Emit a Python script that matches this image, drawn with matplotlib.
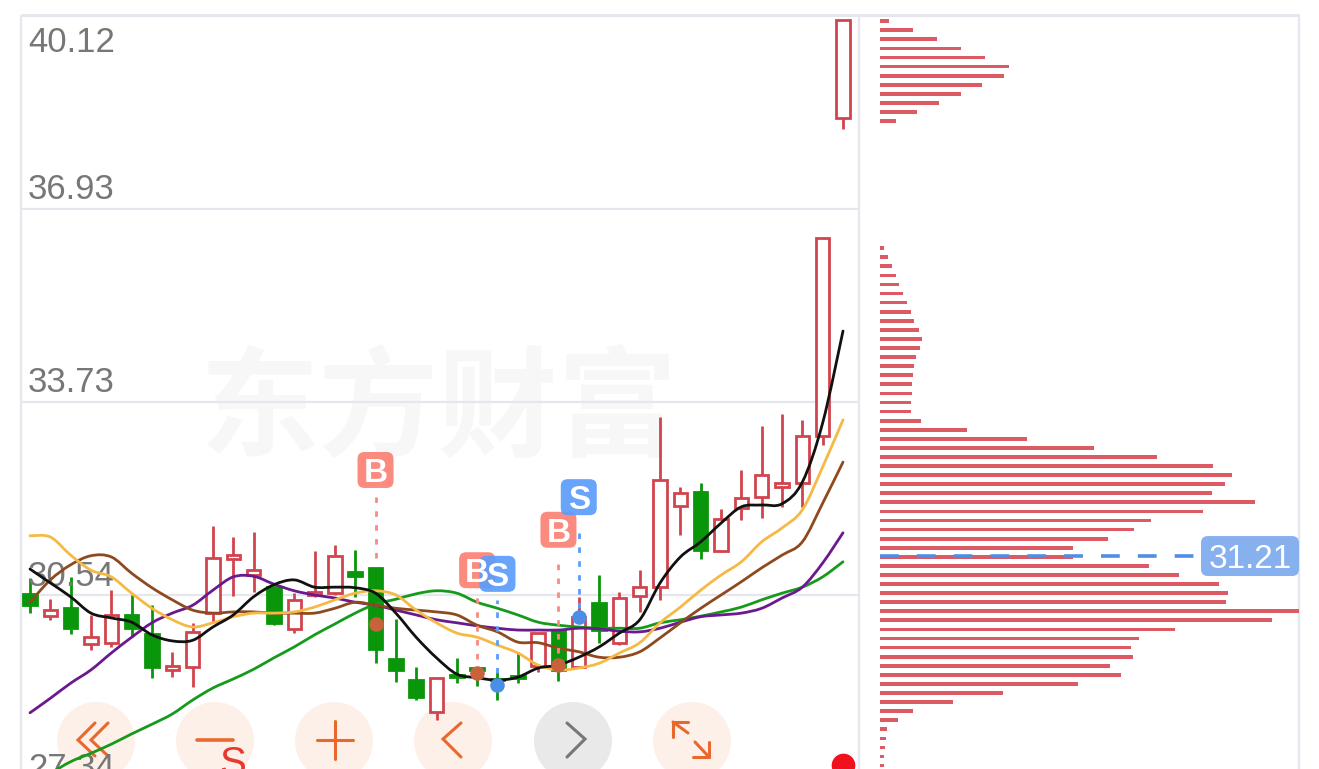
import numpy as np
import matplotlib
matplotlib.use("Agg")
import matplotlib.pyplot as plt
from matplotlib.patches import Circle, FancyBboxPatch, PathPatch
from matplotlib.path import Path
from matplotlib.transforms import Affine2D

# ---------- data ----------
opens = [30.56,30.19,30.32,29.73,29.75,30.21,29.89,29.30,29.35,30.24,31.14,30.87,30.67,29.98,30.54,30.57,30.92,30.99,29.48,29.13,28.60,
         29.22,29.33,29.15,29.20,29.36,29.96,29.35,30.41,29.75,30.52,30.67,32.01,32.25,31.27,31.98,32.16,32.33,32.39,33.17,38.44]
closes = [30.37,30.29,29.99,29.84,30.21,29.99,29.35,29.36,29.93,31.15,31.20,30.95,30.08,30.46,30.59,31.19,30.85,29.65,29.30,28.85,29.17,
          29.18,29.30,29.13,29.17,29.91,29.30,30.18,29.96,30.49,30.67,32.44,32.23,31.29,31.80,32.15,32.53,32.39,33.17,36.45,40.06]
highs = [30.82,30.47,30.84,30.21,30.62,30.54,30.37,29.60,30.08,31.68,31.50,31.58,30.67,30.57,31.27,31.37,31.29,30.99,30.14,29.35,29.17,
         29.50,29.35,29.27,29.60,29.91,29.96,30.51,30.87,30.59,30.95,33.49,32.33,32.39,31.96,32.61,33.34,33.54,33.44,36.45,40.06]
lows = [30.24,30.13,29.89,29.63,29.68,29.84,29.17,29.18,29.02,30.08,30.52,30.59,30.04,29.91,30.51,30.54,30.51,29.41,29.10,28.80,28.47,
        29.08,29.03,28.80,29.08,29.27,29.12,29.35,29.75,29.71,30.26,30.46,31.53,31.14,31.25,31.78,31.81,32.00,32.00,33.02,38.26]

ma_black = [30.97,30.74,30.51,30.24,30.16,30.09,29.88,29.78,29.79,30.01,30.21,30.51,30.71,30.79,30.67,30.67,30.66,30.57,30.24,29.84,29.50,
            29.23,29.17,29.13,29.18,29.33,29.38,29.51,29.68,29.91,30.13,30.74,31.17,31.42,31.73,32.00,32.03,32.05,32.41,33.39,34.91]
ma_orange = [31.52,31.50,31.20,30.95,30.84,30.57,30.32,30.13,30.01,30.08,30.18,30.24,30.24,30.26,30.34,30.46,30.57,30.61,30.54,30.29,30.08,
             29.91,29.84,29.71,29.58,29.38,29.30,29.33,29.41,29.58,29.75,30.08,30.34,30.62,30.87,31.09,31.42,31.65,31.95,32.66,33.44]
ma_brown = [30.42,30.79,31.04,31.19,31.17,30.90,30.66,30.46,30.29,30.24,30.26,30.26,30.24,30.24,30.24,30.32,30.42,30.37,30.32,30.29,30.26,
            30.21,30.04,29.93,29.76,29.75,29.66,29.60,29.51,29.51,29.60,29.83,30.08,30.32,30.54,30.76,30.99,31.20,31.42,32.06,32.74]
ma_purple = [28.59,28.83,29.08,29.30,29.58,29.84,30.08,30.24,30.37,30.62,30.84,30.85,30.72,30.61,30.54,30.49,30.42,30.37,30.29,30.21,30.13,
             30.08,30.03,29.99,29.96,29.96,29.96,29.99,29.98,29.94,29.93,29.99,30.09,30.18,30.21,30.24,30.32,30.49,30.67,31.07,31.57]
ma_green = [27.31,27.58,27.78,27.92,28.07,28.24,28.40,28.57,28.80,29.00,29.15,29.31,29.50,29.68,29.88,30.06,30.24,30.39,30.47,30.56,30.61,
            30.57,30.42,30.32,30.21,30.09,30.04,30.01,29.99,29.99,29.99,30.08,30.13,30.19,30.26,30.34,30.46,30.57,30.67,30.84,31.09]

price_ticks = [40.12, 36.93, 33.73, 30.54, 27.34]
tick_labels = ["40.12", "36.93", "33.73", "30.54", "27.34"]

profile_top = 40.04
profile_step = 0.1503
profile_pct = [2.1,7.9,13.6,19.3,25.1,30.8,29.6,24.3,19.3,14.1,8.8,3.8,
               0,0,0,0,0,0,0,0,0,0,0,0,0,
               1.0,1.8,2.8,3.7,4.6,5.6,6.4,7.3,8.2,9.2,10.1,9.5,8.7,8.0,7.8,7.7,7.6,7.5,7.3,9.8,20.7,35.2,51.0,66.1,79.5,83.9,82.3,79.2,89.6,
               77.0,64.6,60.6,54.4,46.0,46.1,64.1,71.4,81.0,83.1,82.5,100.0,93.6,70.5,61.7,59.9,60.5,55.0,57.5,47.3,29.4,17.5,7.9,4.4,1.6,1.4,1.2,1.0,1.0]
last_price = 31.21
last_price_label = "31.21"

signal_kind = ["B", "B", "S", "B", "S"]
signal_idx = [17, 22, 23, 26, 27]
signal_dot = [30.06, 29.25, 29.05, 29.38, 30.18]
signal_badge = [32.61, 30.95, 30.89, 31.62, 32.16]
signal_stem_top = [32.16, 30.50, 30.46, 31.15, 31.68]
signal_stem_bot = [31.15, 29.48, 29.25, 29.58, 30.32]

# ---------- layout ----------
W, H = 1319, 769
plt.rcParams["font.family"] = ["Liberation Sans", "Noto Sans CJK SC", "DejaVu Sans"]
fig = plt.figure(figsize=(W / 100, H / 100), dpi=100, facecolor="white")

RED = "#d2444d"
GREEN = "#0a960a"
GRID = "#e6e6ef"
BLUE = "#4f8fe3"
y_top = 30.54 + 595 * 0.016556
y_bot = 30.54 - 174 * 0.016556

# overlay in pixels for the app's chrome (buttons), beneath the chart
ui = fig.add_axes([0, 0, 1, 1], zorder=1)
ui.set_xlim(0, W); ui.set_ylim(H, 0); ui.axis("off")
OR = "#e8682e"
for cx, fc in zip([96, 215, 334, 453, 573, 692],
                  ["#fdf0e9", "#fdf0e9", "#fdf0e9", "#fdf0e9", "#e9e9e9", "#fdf0e9"]):
    ui.add_patch(Circle((cx, 741), 39, fc=fc, ec="none"))
def poly(xs, ys, c=OR, lw=2.2):
    ui.plot(xs, ys, color=c, lw=lw, solid_capstyle="round", solid_joinstyle="miter")
poly([95, 78, 95], [723, 740, 756]); poly([108, 91, 108], [723, 740, 756])
poly([197, 233], [740, 740], lw=2.6)
ui.text(233, 764, "S", color="#e83a2c", fontsize=29, ha="center", va="center")
poly([317, 353], [740, 740]); poly([335, 335], [721, 759])
poly([461, 443, 461], [723, 739, 757])
poly([567, 585, 567], [723, 739, 757], c="#777777")
poly([688, 673], [733, 722]); poly([673, 688], [722, 722]); poly([673, 673], [722, 737])
poly([695, 709], [742, 757]); poly([693, 709], [757, 757]); poly([709, 709], [742, 757])

# main price chart
ax = fig.add_axes([0, 0, 1, 1], zorder=2)
ax.patch.set_alpha(0)
ax.set_xlim(-30 / 20.325, (W - 30) / 20.325)
ax.set_ylim(y_bot, y_top)
ax.axis("off")

ax.text(20.1, 33.56, "东方财富", fontsize=86, fontweight="bold", color="#f7f7f7",
        ha="center", va="center", zorder=0.5, family=["Noto Sans CJK SC", "DejaVu Sans"])

# frame and gridlines
pane_l, pane_r = (21 - 30) / 20.325, (859 - 30) / 20.325
ax.hlines(price_ticks[1:4], pane_l, pane_r, color=GRID, lw=1.6, zorder=1)
frame_top = y_top - 15 * 0.016556
ax.hlines(frame_top, pane_l, (1299 - 30) / 20.325, color=GRID, lw=2.2, zorder=1)
ax.vlines([pane_l, pane_r, (1299 - 30) / 20.325], y_bot, frame_top, color=GRID, lw=1.6, zorder=1)

# candles
idx = np.arange(len(opens))
for i in idx:
    up = closes[i] >= opens[i]
    col = RED if up else GREEN
    ax.vlines(i, lows[i], highs[i], color=col, lw=2.0, zorder=3)
    lo, hi = min(opens[i], closes[i]), max(opens[i], closes[i])
    ax.bar(i, hi - lo, bottom=lo, width=0.66, facecolor="white" if up else col,
           edgecolor=col, linewidth=2.0, zorder=3.2)

# moving averages, drawn as smooth curves through the values
def smooth_path(xs, ys):
    pts = np.column_stack([xs, ys]).astype(float)
    ext = np.vstack([pts[0], pts, pts[-1]])
    verts = [pts[0]]
    codes = [Path.MOVETO]
    for k in range(1, len(ext) - 2):
        verts += [ext[k] + (ext[k + 1] - ext[k - 1]) / 6,
                  ext[k + 1] - (ext[k + 2] - ext[k]) / 6,
                  ext[k + 1]]
        codes += [Path.CURVE4] * 3
    return Path(verts, codes)

for series, col in [(ma_green, "#169a1c"), (ma_purple, "#6a1a8e"), (ma_brown, "#8e4a1e"),
                    (ma_orange, "#f5b945"), (ma_black, "#111111")]:
    ax.add_patch(PathPatch(smooth_path(idx, series), fc="none", ec=col, lw=2.0,
                           capstyle="round", zorder=4))

# tick labels
for p, lab, dy in zip(price_ticks, tick_labels, [-26, 20, 20, 18, 20]):
    ax.annotate(lab, xy=(pane_l, p), xytext=(7, dy), textcoords="offset pixels",
                fontsize=25, color="#777777", ha="left", va="center", zorder=3.5,
                annotation_clip=False)

# buy / sell signals
for kind, i, dot, badge, s_top, s_bot in zip(signal_kind, signal_idx, signal_dot, signal_badge,
                                             signal_stem_top, signal_stem_bot):
    box_c = "#fb8074" if kind == "B" else "#5b9cf9"
    line_c = "#f98a80" if kind == "B" else "#5b9cf9"
    dot_c = "#c8623c" if kind == "B" else "#4a8ee6"
    ax.plot([i, i], [s_bot, s_top], color=line_c, lw=2, ls=(0, (2, 3)), zorder=5)
    ax.scatter([i], [dot], s=110, color=dot_c, zorder=5, linewidths=0)
    cx, cy = ax.transData.transform((i, badge))
    tr = Affine2D().translate(cx, cy)
    ax.add_patch(FancyBboxPatch((-18, -18), 36, 36, boxstyle="round,pad=0,rounding_size=7",
                                fc=box_c, ec="none", alpha=0.92, transform=tr, zorder=6))
    ax.text(i, badge, kind, color="white", fontsize=24, fontweight="bold",
            ha="center", va="center_baseline", zorder=6.5)

# red live dot
ax.scatter([40], [30.54 - 170 * 0.016556], s=290, color="#f0101e", zorder=6, linewidths=0)

# volume profile
ax2 = fig.add_axes([880 / W, 0, (1299 - 880) / W, 1], zorder=3)
ax2.patch.set_alpha(0)
ax2.set_xlim(0, 100); ax2.set_ylim(y_bot, y_top); ax2.axis("off")
prof_y = profile_top - profile_step * np.arange(len(profile_pct))
ax2.barh(prof_y, profile_pct, height=0.062, color="#dc5a64", linewidth=0, zorder=2)
ax2.hlines(last_price - 0.025, 0, (1195 - 880) / 4.19, color=BLUE, lw=2.6, linestyle=(0, (5.2, 5)), zorder=3)

cx, cy = ax2.transData.transform(((1250 - 880) / 4.19, last_price - 0.025))
ax2.add_patch(FancyBboxPatch((-49, -20), 98, 40, boxstyle="round,pad=0,rounding_size=7",
                             fc="#86b1ee", ec="none", transform=Affine2D().translate(cx, cy), zorder=4))
ax2.text((1250 - 880) / 4.19, last_price - 0.025, last_price_label, color="white", fontsize=24,
         ha="center", va="center_baseline", zorder=5)

fig.savefig("out.png", dpi=100)
